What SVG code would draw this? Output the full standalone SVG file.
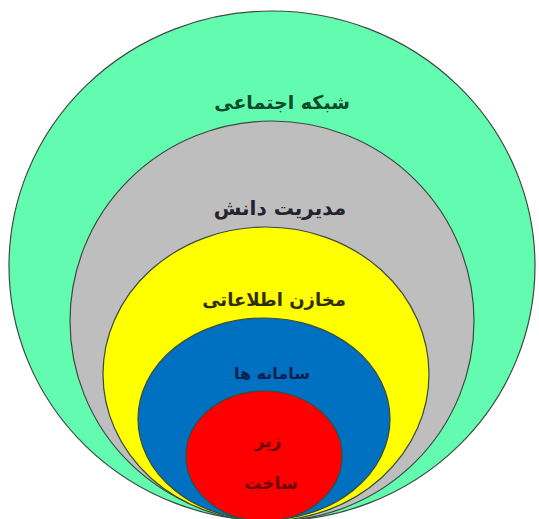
<svg xmlns="http://www.w3.org/2000/svg" width="539" height="519" viewBox="0 0 539 519">
<style>
.ring{stroke:#3a4a40;stroke-width:1.2}
.lbl{font-family:"DejaVu Sans","Noto Sans",sans-serif;font-weight:bold;text-anchor:middle;direction:rtl}
</style>
<rect width="539" height="519" fill="#ffffff"/>
<g id="social">
<ellipse class="ring" cx="272" cy="266" rx="263" ry="255" fill="#63FBB0"/>
<text class="lbl" x="282" y="109" fill="#0c4a2c" font-size="19">شبکه اجتماعی</text>
</g>
<g id="knowledge">
<ellipse class="ring" cx="272" cy="321" rx="202" ry="200" fill="#BEBEBE"/>
<text class="lbl" x="280" y="215" fill="#23232e" font-size="20">مدیریت دانش</text>
</g>
<g id="repos">
<ellipse class="ring" cx="266" cy="374" rx="163" ry="147" fill="#FFFF00"/>
<text class="lbl" x="274" y="306" fill="#2e2e00" font-size="18">مخازن اطلاعاتی</text>
</g>
<g id="systems">
<ellipse class="ring" cx="264" cy="419" rx="126" ry="101" fill="#0070C0"/>
<text class="lbl" x="272" y="379" fill="#0b1f4f" font-size="16">سامانه ها</text>
</g>
<g id="infra">
<ellipse class="ring" cx="264" cy="456" rx="78" ry="65" fill="#FF0000"/>
<text class="lbl" x="268" y="447" fill="#6a0000" font-size="17">زیر</text>
<text class="lbl" x="271" y="489" fill="#6a0000" font-size="17">ساخت</text>
</g>
<g id="connectors"/>
</svg>
